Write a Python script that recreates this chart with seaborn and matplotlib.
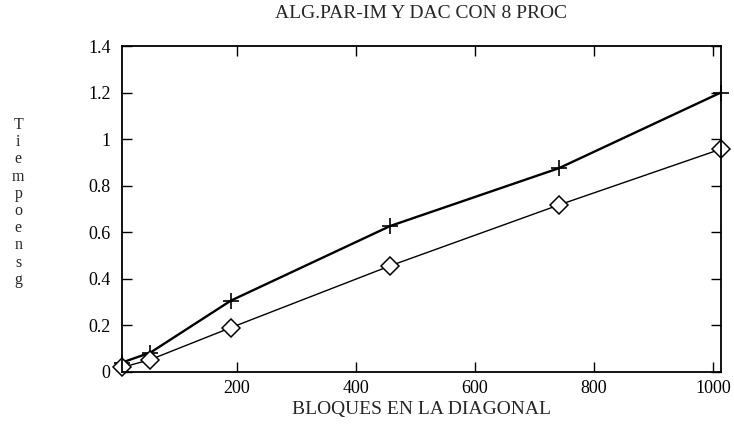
import pandas as pd
import seaborn as sns
import matplotlib
matplotlib.use("Agg")
import matplotlib.pyplot as plt
from matplotlib.ticker import FuncFormatter

# bloques en la diagonal vs tiempo (sg), 8 procesadores
bloques = [7, 55, 190, 458, 741, 1013]
tiempo_par_im = [0.04, 0.083, 0.306, 0.627, 0.875, 1.20]
tiempo_dac = [0.019, 0.053, 0.19, 0.456, 0.717, 0.957]

x_ticks = [200, 400, 600, 800, 1000]
y_ticks = [0, 0.2, 0.4, 0.6, 0.8, 1, 1.2, 1.4]

sns.set_style("ticks")
plt.rcParams["font.family"] = ["Liberation Serif", "DejaVu Serif"]

df = pd.DataFrame({"bloques": bloques + bloques,
                   "tiempo": tiempo_par_im + tiempo_dac,
                   "alg": ["PAR-IM"] * len(bloques) + ["DAC"] * len(bloques)})

fig = plt.figure(figsize=(7.34, 4.26), dpi=100)
ax = fig.add_axes([0.166, 0.127, 0.816, 0.765])

# linea gruesa con cruces
sns.lineplot(data=df[df["alg"] == "PAR-IM"], x="bloques", y="tiempo", ax=ax,
             color="black", lw=1.7, marker="+", markersize=11, mew=1.2,
             markeredgecolor="black", clip_on=False, legend=False)
# linea fina con rombos
sns.lineplot(data=df[df["alg"] == "DAC"], x="bloques", y="tiempo", ax=ax,
             color="black", lw=1.0, marker="D", markersize=9, mew=1.1,
             markerfacecolor="white", markeredgecolor="black",
             clip_on=False, legend=False)

ax.set_xlim(min(bloques), max(bloques))
ax.set_ylim(0, 1.4)
ax.set_xticks(x_ticks)
ax.set_yticks(y_ticks)
ax.yaxis.set_major_formatter(FuncFormatter(lambda v, p: "%g" % v))
ax.tick_params(direction="in", length=7, width=1, top=True, right=True,
               labelsize=13, colors="black")
ax.tick_params(axis="x", pad=6)
ax.tick_params(axis="y", pad=8)
for s in ax.spines.values():
    s.set_linewidth(1.3)
    s.set_color("black")

ax.set_title("ALG.PAR-IM Y DAC CON 8 PROC", fontsize=14, pad=20)
ax.set_xlabel("BLOQUES EN LA DIAGONAL", fontsize=14, labelpad=3)
ax.set_ylabel("")
# etiqueta vertical letra por letra
fig.text(0.025, 0.525, "\n".join("Tiempoensg"), fontsize=11.5,
         ha="center", va="center", linespacing=1.1)

fig.savefig("out.png", dpi=100)
plt.close(fig)
